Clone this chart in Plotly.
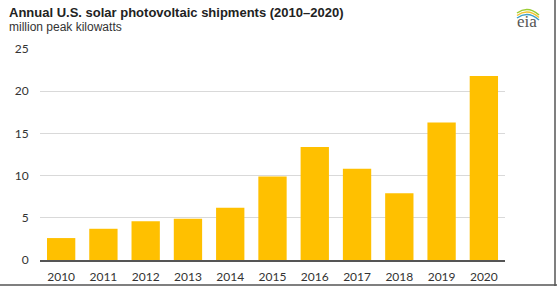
import plotly.graph_objects as go

years = ["2010", "2011", "2012", "2013", "2014", "2015", "2016", "2017", "2018", "2019", "2020"]
shipments = [2.6, 3.7, 4.6, 4.9, 6.2, 9.9, 13.4, 10.8, 7.9, 16.3, 21.8]
y_ticks = [0, 5, 10, 15, 20, 25]

W, H = 557, 286
L, R, T, B = 40, 52, 49, 26
pw, ph = W - L - R, H - T - B

def px(x):
    return (x - L) / pw

def py(y):
    return (H - B - y) / ph

fig = go.Figure(go.Bar(x=years, y=shipments, marker=dict(color="#FFC000", line=dict(width=0)),
                       width=0.67, hoverinfo="x+y"))

shapes = [
    dict(type="line", xref="paper", yref="paper", x0=px(0), x1=px(W), y0=py(285), y1=py(285),
         line=dict(color="#555555", width=1.5)),
    dict(type="line", xref="paper", yref="paper", x0=px(555), x1=px(555), y0=py(0), y1=py(286),
         line=dict(color="#555555", width=1.5)),
]
# eia logo arcs
arcs = [("#9ACD32", 10), ("#F4C430", 12.5), ("#3FA0C8", 15)]
for col, yb in arcs:
    x0, y0 = 517, yb + 3
    xm, ym = 528, yb - 5
    x1, y1 = 539, yb + 5
    shapes.append(dict(type="path", xref="paper", yref="paper",
                       path=f"M {px(x0)},{py(y0)} Q {px(xm)},{py(ym)} {px(x1)},{py(y1)}",
                       line=dict(color=col, width=1.5)))

fig.update_layout(
    width=W, height=H,
    margin=dict(l=L, r=R, t=T, b=B, autoexpand=False),
    paper_bgcolor="white", plot_bgcolor="white",
    showlegend=False,
    bargap=0.33,
    font=dict(family="Lato, Open Sans, sans-serif", size=12, color="#333333"),
    xaxis=dict(showgrid=False, showline=True, linecolor="#555555", linewidth=1.5,
               ticks="outside", ticklen=5, tickcolor="rgba(0,0,0,0)", automargin=False,
               tickfont=dict(size=12, color="#333333")),
    yaxis=dict(range=[0, 25], tickvals=y_ticks, showgrid=True, gridcolor="#D9D9D9", gridwidth=1,
               zeroline=False, showline=False, ticks="outside", ticklen=8,
               tickcolor="rgba(0,0,0,0)", automargin=False,
               tickfont=dict(size=12, color="#333333")),
    shapes=shapes,
    annotations=[
        dict(text="<b>Annual U.S. solar photovoltaic shipments (2010–2020)</b>", xref="paper", yref="paper",
             x=px(7), y=py(12), xanchor="left", yanchor="middle", showarrow=False,
             font=dict(family="Liberation Sans, Arial, sans-serif", size=13, color="#222222")),
        dict(text="million peak kilowatts", xref="paper", yref="paper",
             x=px(7), y=py(27), xanchor="left", yanchor="middle", showarrow=False,
             font=dict(family="Liberation Sans, Arial, sans-serif", size=12, color="#333333")),
        dict(text="eia", xref="paper", yref="paper",
             x=px(527), y=py(22), xanchor="center", yanchor="middle", showarrow=False,
             font=dict(family="Liberation Serif, DejaVu Serif, serif", size=17, color="#555555")),
    ],
)

fig.write_html("out.html")
